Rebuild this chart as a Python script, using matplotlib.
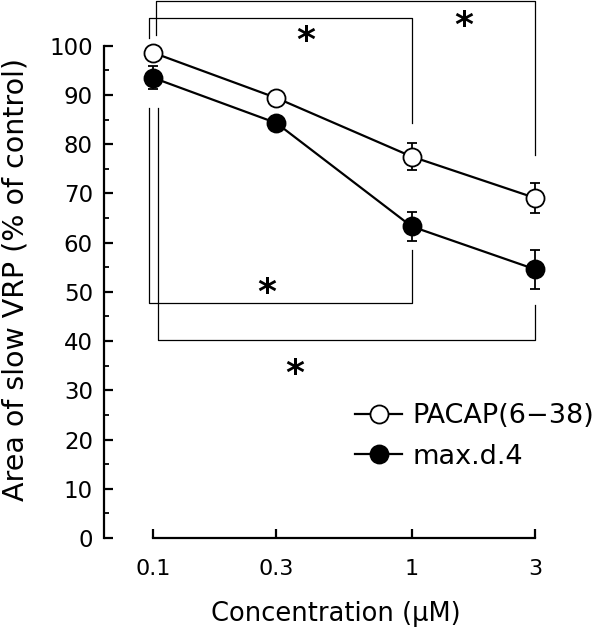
import numpy as np
import matplotlib
matplotlib.use("Agg")
import matplotlib.pyplot as plt
from matplotlib.lines import Line2D
from matplotlib.ticker import FixedLocator, NullLocator

plt.rcParams['font.family'] = ['DejaVu Sans']

# data
conc = [0.1, 0.3, 1, 3]
conc_labels = ['0.1', '0.3', '1', '3']
pacap = [98.6, 89.4, 77.5, 69.1]
pacap_err = [0.8, 1.0, 2.8, 3.0]
maxd4 = [93.5, 84.3, 63.3, 54.6]
maxd4_err = [2.3, 1.5, 3.0, 4.0]

fig = plt.figure(figsize=(6.03, 6.4), dpi=100)
ax = fig.add_axes([104/603, 102/640, 486/603, 538/640])

mk = dict(color='black', lw=1.6, marker='o', ms=13, mec='black', mew=1.3)
eb = dict(capsize=3.6, elinewidth=1.3, capthick=1.3)
ax.errorbar(conc, maxd4, yerr=maxd4_err, mfc='black', zorder=3, **mk, **eb)
ax.errorbar(conc, pacap, yerr=pacap_err, mfc='white', zorder=4, **mk, **eb)

ax.set_xscale('log')
ax.set_xlim(0.0646, 4.9)
ax.set_ylim(0, 109.3)

for s in ['top', 'right']:
    ax.spines[s].set_visible(False)
ax.spines['left'].set_bounds(0, 100)
ax.spines['bottom'].set_bounds(0.1, 3)
ax.spines['left'].set_linewidth(1.6)
ax.spines['bottom'].set_linewidth(1.6)

ax.xaxis.set_major_locator(FixedLocator(conc))
ax.xaxis.set_minor_locator(NullLocator())
ax.set_xticklabels(conc_labels)
ax.yaxis.set_major_locator(FixedLocator(np.arange(0, 101, 10)))
ax.yaxis.set_minor_locator(FixedLocator(np.arange(5, 100, 10)))
ax.tick_params(axis='both', which='major', direction='in', length=6.5, width=1.6)
ax.tick_params(axis='y', which='minor', direction='in', length=3.6, width=1.3)
ax.tick_params(axis='x', pad=15, labelsize=16)
ax.tick_params(axis='y', pad=8, labelsize=16.5)

ax.set_xlabel('Concentration (\u03bcM)', fontsize=18.5)
ax.xaxis.set_label_coords((336 - 104) / 486, -63 / 538)
ax.set_ylabel('Area of slow VRP (% of control)', fontsize=20.5)
ax.yaxis.set_label_coords(-74 / 486, 0.48)

# significance brackets
bk = dict(color='black', lw=0.9, clip_on=False, zorder=1)
ax.plot([0.0965, 0.0965, 1.0, 1.0], [101.6, 105.7, 105.7, 84.3], **bk)
ax.plot([0.1027, 0.1027, 3.0, 3.0], [102.2, 109.1, 109.1, 77.8], **bk)
ax.plot([0.0965, 0.0965, 1.0, 1.0], [87.4, 47.8, 47.8, 58.5], **bk)
ax.plot([0.1045, 0.1045, 3.0, 3.0], [87.4, 40.2, 40.2, 47.4], **bk)

star = dict(fontsize=26, fontweight='bold', ha='center', va='center')
ax.text(0.39, 101.0, '*', **star)
ax.text(1.59, 104.1, '*', **star)
ax.text(0.276, 49.8, '*', **star)
ax.text(0.354, 33.3, '*', **star)

handles = [Line2D([], [], mfc='white', **mk), Line2D([], [], mfc='black', **mk)]
ax.legend(handles, ['PACAP(6\u221238)', 'max.d.4'], loc='upper left',
          bbox_to_anchor=(355 / 603, 1 - 403 / 640), bbox_transform=fig.transFigure,
          frameon=False, fontsize=19.5, handlelength=1.75, handletextpad=0.37,
          labelspacing=0.55, borderpad=0, borderaxespad=0)

fig.savefig('out.png', dpi=100)
